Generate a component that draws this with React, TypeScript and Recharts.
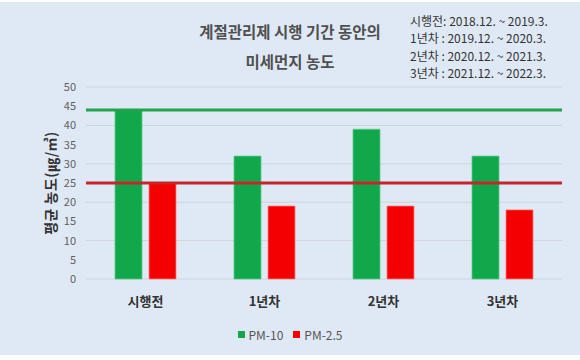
import React from "react";
import {
  BarChart,
  Bar,
  XAxis,
  YAxis,
  CartesianGrid,
  ReferenceLine,
  Legend,
} from "recharts";

const categories = ["시행전", "1년차", "2년차", "3년차"];
const pm10 = [44, 32, 39, 32];
const pm25 = [25, 19, 19, 18];
const yTicks = [0, 5, 10, 15, 20, 25, 30, 35, 40, 45, 50];
const periods = [
  "시행전: 2018.12. ~ 2019.3.",
  "1년차 : 2019.12. ~ 2020.3.",
  "2년차 : 2020.12. ~ 2021.3.",
  "3년차 : 2021.12. ~ 2022.3.",
];

const data = categories.map((name, i) => ({ name, pm10: pm10[i], pm25: pm25[i] }));

const FONT = "'Noto Sans CJK KR', 'Noto Sans', sans-serif";
const GREEN = "#10a84b";
const RED = "#f40000";

function LegendContent() {
  const items = [
    { label: "PM-10", color: GREEN },
    { label: "PM-2.5", color: RED },
  ];
  return (
    <div style={{ display: "flex", justifyContent: "center", gap: 10, fontFamily: FONT, fontSize: 12, color: "#555" }}>
      {items.map((it) => (
        <div key={it.label} style={{ display: "flex", alignItems: "center", gap: 4 }}>
          <span style={{ width: 7, height: 7, background: it.color, display: "inline-block" }} />
          <span>{it.label}</span>
        </div>
      ))}
    </div>
  );
}

export default function App() {
  return (
    <div style={{ position: "absolute", left: 0, top: 0, width: 580, height: 360, background: "#fff" }}>
      <div style={{ position: "absolute", left: 0, top: 2, width: 580, height: 353, background: "#dfe9f5" }} />

      {/* title */}
      <div
        style={{
          position: "absolute",
          left: 140,
          top: 16,
          width: 300,
          textAlign: "center",
          fontFamily: FONT,
          fontSize: 15.5,
          fontWeight: 700,
          color: "#505050",
          lineHeight: "30px",
        }}
      >
        <div>계절관리제 시행 기간 동안의</div>
        <div>미세먼지 농도</div>
      </div>

      {/* period notes */}
      <div
        style={{
          position: "absolute",
          left: 410,
          top: 12,
          fontFamily: FONT,
          fontSize: 12,
          color: "#333",
          lineHeight: "17.3px",
          whiteSpace: "pre",
        }}
      >
        {periods.map((p) => (
          <div key={p}>{p}</div>
        ))}
      </div>

      <div style={{ position: "absolute", left: 0, top: 0 }}>
        <BarChart
          width={580}
          height={360}
          data={data}
          margin={{ top: 87, right: 18, left: 0, bottom: 51 }}
          barSize={27}
          barGap={7}
        >
          <CartesianGrid vertical={false} stroke="#cfd4da" />
          <XAxis
            dataKey="name"
            axisLine={false}
            tickLine={false}
            height={30}
            tickMargin={12}
            tick={{ fill: "#333", fontSize: 13, fontWeight: 700, fontFamily: FONT }}
          />
          <YAxis
            domain={[0, 50]}
            ticks={yTicks}
            width={86}
            axisLine={false}
            tickLine={false}
            tickMargin={4}
            tick={{ fill: "#606060", fontSize: 11, fontFamily: FONT }}
            label={{
              value: "평균 농도(㎍/㎥)",
              angle: -90,
              position: "center",
              dx: 8,
              style: { fill: "#333", fontSize: 14, fontWeight: 700, fontFamily: FONT, letterSpacing: 0.5 },
            }}
          />
          <Legend
            verticalAlign="middle"
            layout="horizontal"
            content={<LegendContent />}
            wrapperStyle={{ top: 326, left: 0, width: 580 }}
          />
          <Bar dataKey="pm10" name="PM-10" fill={GREEN} stroke="#5cc98a" strokeWidth={0.8} isAnimationActive={false} />
          <Bar dataKey="pm25" name="PM-2.5" fill={RED} stroke="#ff7a7a" strokeWidth={0.8} isAnimationActive={false} />
          <ReferenceLine y={pm10[0]} stroke="#22a34c" strokeWidth={3} />
          <ReferenceLine y={pm25[0]} stroke="#c4262b" strokeWidth={3} />
        </BarChart>
      </div>
    </div>
  );
}
